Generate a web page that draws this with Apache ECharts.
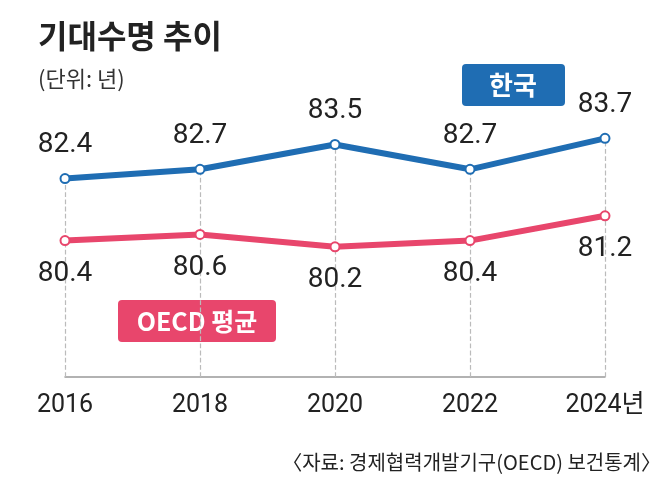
<!DOCTYPE html>
<html style="height: 100%">
<head>
    <meta charset="utf-8">
</head>
<body style="height: 100%; margin: 0">
<div id="container" style="height: 100%"></div>
<script type="text/javascript" src="https://cdn.jsdelivr.net/npm/echarts@6/dist/echarts.min.js"></script>
<script type="text/javascript">
  const years = ['2016', '2018', '2020', '2022', '2024년'];
  const korea = [82.4, 82.7, 83.5, 82.7, 83.7];
  const oecd = [80.4, 80.6, 80.2, 80.4, 81.2];

  const numFont = '"Liberation Sans Narrow", "Roboto", "Noto Sans CJK KR", sans-serif';
  const krFont = '"Noto Sans CJK KR", sans-serif';
  const blue = '#1f6db3';
  const red = '#e8466c';

  // dashed drop lines from each Korea point down to the axis
  const dropLines = korea.map(function (v, i) {
    return [{ coord: [i, 76] }, { coord: [i, v] }];
  });

  var myChart = echarts.init(document.getElementById('container'));
  var option = {
    backgroundColor: '#fff',
    animation: false,
    grid: { left: 65, right: 66, top: 67, height: 310 },
    xAxis: {
      type: 'category',
      data: years,
      boundaryGap: false,
      axisTick: { show: false },
      axisLine: { lineStyle: { color: '#999', width: 1.5 } },
      axisLabel: { color: '#222', fontSize: 25, fontFamily: numFont, margin: 16 },
      splitLine: { show: false }
    },
    yAxis: { type: 'value', min: 76, max: 86, show: false },
    series: [
      {
        type: 'line', data: korea, symbol: 'circle', symbolSize: 9, z: 3,
        lineStyle: { color: blue, width: 6 },
        itemStyle: { color: '#fff', borderColor: blue, borderWidth: 2 },
        label: { show: true, position: 'top', distance: 14, color: '#222', fontSize: 28, fontFamily: numFont },
        markLine: {
          silent: true, symbol: 'none', label: { show: false }, z: 1,
          lineStyle: { color: '#bbb', type: 'dashed', width: 1.2 },
          data: dropLines
        }
      },
      {
        type: 'line', data: oecd, symbol: 'circle', symbolSize: 9, z: 3,
        lineStyle: { color: red, width: 6 },
        itemStyle: { color: '#fff', borderColor: red, borderWidth: 2 },
        label: { show: true, position: 'bottom', distance: 14, color: '#222', fontSize: 28, fontFamily: numFont }
      }
    ],
    graphic: [
      { type: 'text', left: 38, top: 20, style: { text: '기대수명 추이', fontSize: 32, fontWeight: 'bold', fontFamily: krFont, fill: '#222' } },
      { type: 'text', left: 38, top: 68, style: { text: '(단위: 년)', fontSize: 22, fontFamily: krFont, fill: '#333' } },
      { type: 'rect', shape: { x: 462, y: 64, width: 103, height: 42, r: 4 }, style: { fill: blue } },
      { type: 'text', x: 513, y: 85, style: { text: '한국', align: 'center', verticalAlign: 'middle', fontSize: 26, fontWeight: 'bold', fontFamily: krFont, fill: '#fff' } },
      { type: 'rect', shape: { x: 118, y: 300, width: 158, height: 42, r: 4 }, style: { fill: red } },
      { type: 'text', x: 197, y: 321, style: { text: 'OECD 평균', align: 'center', verticalAlign: 'middle', fontSize: 25, fontWeight: 'bold', fontFamily: krFont, fill: '#fff' } },
      { type: 'text', right: 10, top: 452, style: { text: '〈자료: 경제협력개발기구(OECD) 보건통계〉', fontSize: 20, fontFamily: krFont, fill: '#222' } }
    ]
  };
  myChart.setOption(option);
</script>
</body>
</html>
